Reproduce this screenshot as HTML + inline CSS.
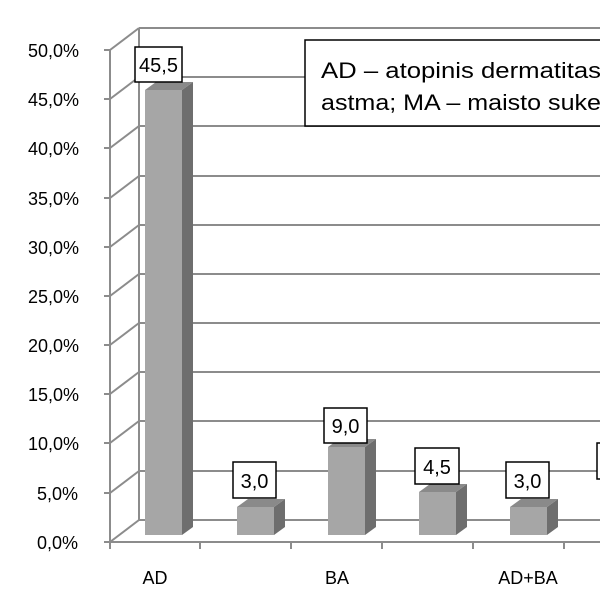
<!DOCTYPE html>
<html><head><style>body{margin:0;background:#fff}svg{display:block}</style></head><body>
<svg width="600" height="600" xmlns="http://www.w3.org/2000/svg" font-family="Liberation Sans, sans-serif">
<g stroke="#8c8c8c" stroke-width="2" fill="none">
<line x1="139" y1="520" x2="139" y2="28"/>
<line x1="139" y1="520" x2="600" y2="520"/><line x1="139" y1="471" x2="600" y2="471"/><line x1="139" y1="421" x2="600" y2="421"/><line x1="139" y1="372" x2="600" y2="372"/><line x1="139" y1="323" x2="600" y2="323"/><line x1="139" y1="274" x2="600" y2="274"/><line x1="139" y1="225" x2="600" y2="225"/><line x1="139" y1="176" x2="600" y2="176"/><line x1="139" y1="126" x2="600" y2="126"/><line x1="139" y1="77" x2="600" y2="77"/><line x1="139" y1="28" x2="600" y2="28"/>
<line x1="110" y1="542" x2="139" y2="520"/><line x1="110" y1="493" x2="139" y2="471"/><line x1="110" y1="443" x2="139" y2="421"/><line x1="110" y1="394" x2="139" y2="372"/><line x1="110" y1="345" x2="139" y2="323"/><line x1="110" y1="296" x2="139" y2="274"/><line x1="110" y1="247" x2="139" y2="225"/><line x1="110" y1="198" x2="139" y2="176"/><line x1="110" y1="148" x2="139" y2="126"/><line x1="110" y1="99" x2="139" y2="77"/><line x1="110" y1="50" x2="139" y2="28"/>
<line x1="110" y1="50" x2="110" y2="542"/>
<line x1="104" y1="542" x2="110" y2="542"/><line x1="104" y1="493" x2="110" y2="493"/><line x1="104" y1="443" x2="110" y2="443"/><line x1="104" y1="394" x2="110" y2="394"/><line x1="104" y1="345" x2="110" y2="345"/><line x1="104" y1="296" x2="110" y2="296"/><line x1="104" y1="247" x2="110" y2="247"/><line x1="104" y1="198" x2="110" y2="198"/><line x1="104" y1="148" x2="110" y2="148"/><line x1="104" y1="99" x2="110" y2="99"/><line x1="104" y1="50" x2="110" y2="50"/>
<line x1="110" y1="542" x2="600" y2="542"/>
<line x1="110" y1="542" x2="110" y2="549"/><line x1="200" y1="542" x2="200" y2="549"/><line x1="291" y1="542" x2="291" y2="549"/><line x1="382" y1="542" x2="382" y2="549"/><line x1="473" y1="542" x2="473" y2="549"/><line x1="564" y1="542" x2="564" y2="549"/>
</g>
<g>
<g><rect x="145" y="90" width="37" height="445" fill="#a6a6a6"/><polygon points="182,90 193,82 193,527 182,535" fill="#6e6e6e"/><polygon points="145,90 156,82 193,82 182,90" fill="#8a8a8a"/></g>
<g><rect x="237" y="507" width="37" height="28" fill="#a6a6a6"/><polygon points="274,507 285,499 285,527 274,535" fill="#6e6e6e"/><polygon points="237,507 248,499 285,499 274,507" fill="#8a8a8a"/></g>
<g><rect x="328" y="447" width="37" height="88" fill="#a6a6a6"/><polygon points="365,447 376,439 376,527 365,535" fill="#6e6e6e"/><polygon points="328,447 339,439 376,439 365,447" fill="#8a8a8a"/></g>
<g><rect x="419" y="492" width="37" height="43" fill="#a6a6a6"/><polygon points="456,492 467,484 467,527 456,535" fill="#6e6e6e"/><polygon points="419,492 430,484 467,484 456,492" fill="#8a8a8a"/></g>
<g><rect x="510" y="507" width="37" height="28" fill="#a6a6a6"/><polygon points="547,507 558,499 558,527 547,535" fill="#6e6e6e"/><polygon points="510,507 521,499 558,499 547,507" fill="#8a8a8a"/></g>
</g>
<g fill="#fff" stroke="#000" stroke-width="1.5">
<rect x="135" y="47" width="47" height="35"/><rect x="233" y="462" width="43" height="36"/><rect x="324" y="408" width="43" height="35"/><rect x="415" y="448" width="44" height="36"/><rect x="506" y="462" width="43" height="36"/><rect x="597" y="443" width="10" height="36"/>
<rect x="305" y="40" width="300" height="86"/>
</g>
<g font-size="20" text-anchor="middle" fill="#000">
<text x="158.5" y="72">45,5</text><text x="254.5" y="488">3,0</text><text x="345.5" y="433">9,0</text><text x="437" y="474">4,5</text><text x="527.5" y="488">3,0</text>
</g>
<g font-size="22" fill="#000">
<text x="321" y="78" textLength="280" lengthAdjust="spacingAndGlyphs">AD – atopinis dermatitas</text>
<text x="321" y="110" textLength="280" lengthAdjust="spacingAndGlyphs">astma; MA – maisto suke</text>
</g>
<g font-size="18" fill="#000">
<text x="37" y="549">0,0%</text><text x="37" y="500">5,0%</text><text x="28" y="450">10,0%</text><text x="28" y="401">15,0%</text><text x="28" y="352">20,0%</text><text x="28" y="303">25,0%</text><text x="28" y="254">30,0%</text><text x="28" y="205">35,0%</text><text x="28" y="155">40,0%</text><text x="28" y="106">45,0%</text><text x="28" y="57">50,0%</text>
</g>
<g font-size="18" text-anchor="middle" fill="#000">
<text x="155" y="584">AD</text><text x="337" y="584">BA</text><text x="528" y="584">AD+BA</text>
</g>
</svg>
</body></html>
